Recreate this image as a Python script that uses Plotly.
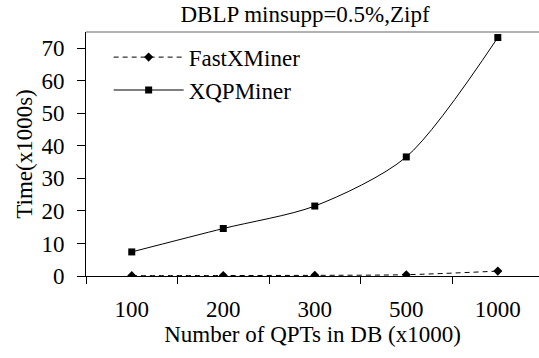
import plotly.graph_objects as go

# Database sizes (number of QPTs, x1000) and run times (x1000 s)
sizes = ["100", "200", "300", "500", "1000"]
fastxminer = [0.1, 0.15, 0.2, 0.4, 1.5]
xqpminer = [7.4, 14.6, 21.5, 36.6, 73.3]
y_ticks = [0, 10, 20, 30, 40, 50, 60, 70]

FONT = "Liberation Serif"
TXT = dict(family=FONT, size=23, color="black")

fig = go.Figure()
fig.add_trace(go.Scatter(
    x=sizes, y=fastxminer, name="FastXMiner", mode="lines+markers",
    line=dict(color="black", width=1, dash="5px,4px", shape="spline", smoothing=0.8),
    marker=dict(symbol="diamond", size=7, color="black"),
))
fig.add_trace(go.Scatter(
    x=sizes, y=xqpminer, name="XQPMiner", mode="lines+markers",
    line=dict(color="black", width=1, shape="spline", smoothing=0.8),
    marker=dict(symbol="square", size=7, color="black"),
))

fig.update_layout(
    width=539, height=358,
    margin=dict(l=86, r=0, t=32, b=82),
    paper_bgcolor="white", plot_bgcolor="white",
    font=TXT,
    title=dict(text="DBLP minsupp=0.5%,Zipf", x=0.566, xanchor="center",
               y=1 - 14 / 358, yanchor="middle", font=TXT),
    showlegend=True,
    legend=dict(x=0.05, y=0.985, xanchor="left", yanchor="top",
                bgcolor="rgba(0,0,0,0)", itemwidth=70, tracegroupgap=0,
                font=TXT),
    xaxis=dict(
        type="category", range=[-0.5, 4.45],
        showline=True, linecolor="black", linewidth=1,
        ticks="outside", ticklen=7, tickcolor="black", tickson="boundaries",
        showgrid=False, zeroline=False, ticklabelstandoff=12,
        tickfont=TXT,
        title=dict(text="Number of QPTs in DB (x1000)", standoff=4, font=TXT),
    ),
    yaxis=dict(
        range=[0, 75], tickvals=y_ticks,
        showline=True, linecolor="black", linewidth=1,
        ticks="outside", ticklen=8, tickcolor="black",
        showgrid=False, zeroline=False, ticklabelstandoff=8,
        tickfont=TXT,
        title=dict(text="Time(x1000s)", standoff=2, font=TXT),
    ),
    shapes=[dict(type="line", xref="paper", yref="paper", x0=0, x1=1, y0=1, y1=1,
                 line=dict(color="#999999", width=1.5))],
)

fig.write_html("out.html")
